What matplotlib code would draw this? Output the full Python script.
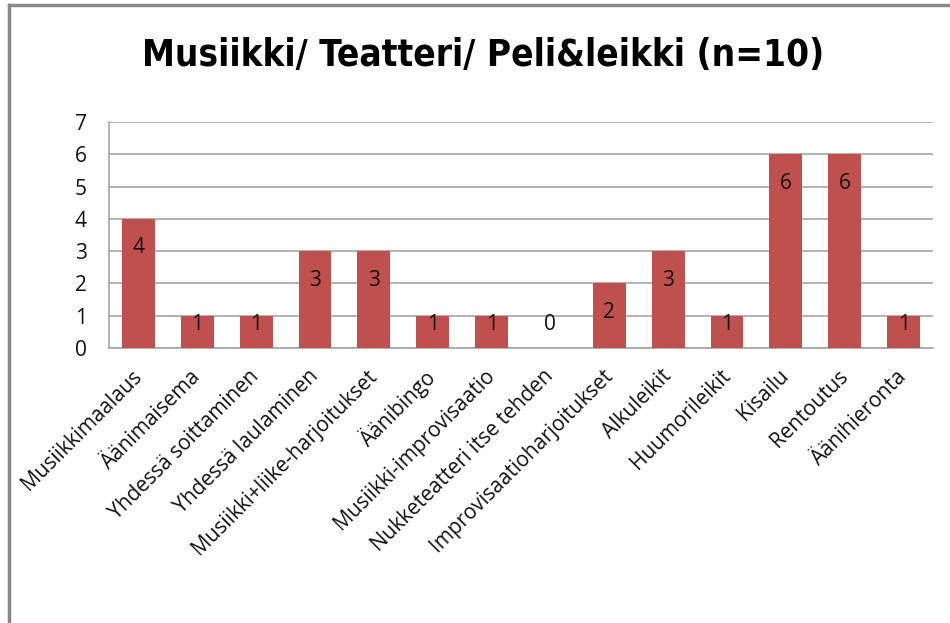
import matplotlib
matplotlib.use('Agg')
import matplotlib.pyplot as plt
from matplotlib.lines import Line2D

categories = ['Musiikkimaalaus', 'Äänimaisema', 'Yhdessä soittaminen', 'Yhdessä laulaminen',
              'Musiikki+liike-harjoitukset', 'Äänibingo', 'Musiikki-improvisaatio',
              'Nukketeatteri itse tehden', 'Improvisaatioharjoitukset', 'Alkuleikit',
              'Huumorileikit', 'Kisailu', 'Rentoutus', 'Äänihieronta']
values = [4, 1, 1, 3, 3, 1, 1, 0, 2, 3, 1, 6, 6, 1]
yticks = [0, 1, 2, 3, 4, 5, 6, 7]
title = 'Musiikki/ Teatteri/ Peli&leikki (n=10)'

plt.rcParams['font.family'] = ['Open Sans', 'DejaVu Sans']

fig = plt.figure(figsize=(9.5, 6.23), dpi=100)
ax = fig.add_axes([109/950, 1 - 348/623, (933-109)/950, (348-122)/623])

x = list(range(len(categories)))
ax.bar(x, values, width=0.56, color='#C0504D', zorder=3)

# value labels, inside end like Excel
for xi, v in zip(x, values):
    ax.text(xi, max(v - 0.9, 0.72), str(v), ha='center', va='center',
            fontsize=15, color='#111111', zorder=4)

ax.set_xlim(-0.5, len(categories) - 0.5)
ax.set_ylim(0, 7)
ax.set_yticks(yticks)
ax.set_yticklabels([str(t) for t in yticks], fontsize=15, color='#111111')
ax.set_xticks(x)
ax.set_xticklabels(categories, rotation=45, ha='right', va='center',
                   rotation_mode='anchor', fontsize=15, color='#111111')
ax.tick_params(axis='both', length=0)
ax.tick_params(axis='x', pad=18)
ax.tick_params(axis='y', pad=16)
ax.grid(axis='y', color='#A6A6A6', linewidth=1.2, zorder=0)
for s in ['top', 'right']:
    ax.spines[s].set_visible(False)
for s in ['left', 'bottom']:
    ax.spines[s].set_color('#A6A6A6')
    ax.spines[s].set_linewidth(1.2)

fig.text(483/950, 1 - 56/623, title, ha='center', va='center', fontsize=26.5,
         fontweight='bold', fontstretch='condensed', family=['DejaVu Sans'])

# outer chart frame (top and left visible in the crop)
fig.add_artist(Line2D([9/950, 1], [1 - 5/623, 1 - 5/623], transform=fig.transFigure,
                      color='#888888', linewidth=2.5))
fig.add_artist(Line2D([9/950, 9/950], [0, 1 - 5/623], transform=fig.transFigure,
                      color='#888888', linewidth=2.5))

fig.savefig('out.png', dpi=100)
